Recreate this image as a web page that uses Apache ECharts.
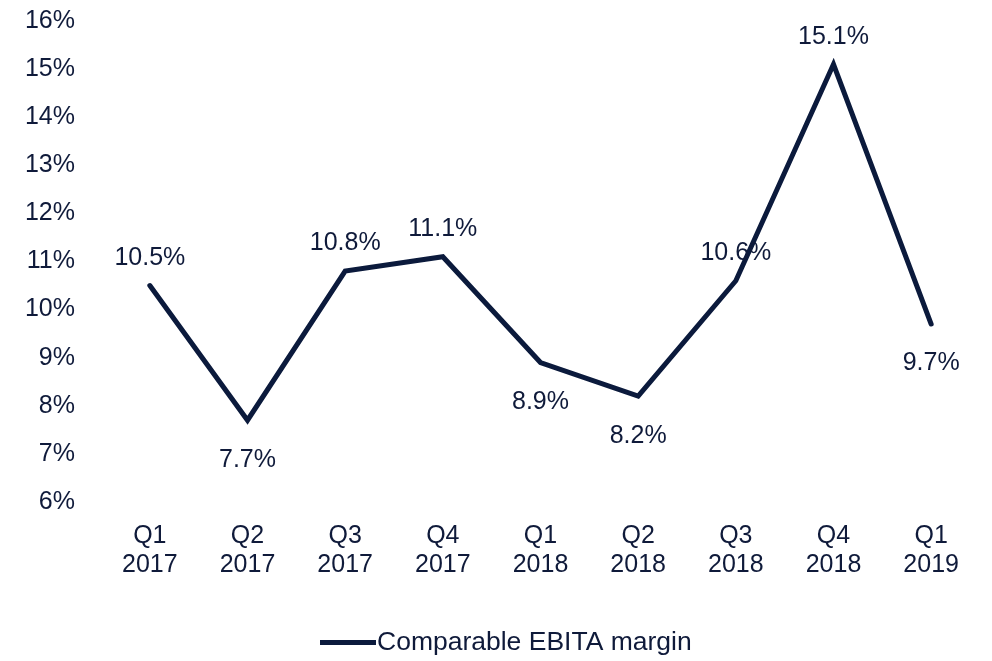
<!DOCTYPE html>
<html>
<head>
<meta charset="utf-8">
<script src="https://cdn.jsdelivr.net/npm/echarts@6/dist/echarts.min.js"></script>
<style>
  html, body { margin: 0; padding: 0; background: #fff; }
  #chart { width: 992px; height: 661px; }
</style>
</head>
<body>
<div id="chart"></div>
<script>
const categories = ['Q1\n2017', 'Q2\n2017', 'Q3\n2017', 'Q4\n2017', 'Q1\n2018', 'Q2\n2018', 'Q3\n2018', 'Q4\n2018', 'Q1\n2019']
const margin = [10.5, 7.7, 10.8, 11.1, 8.9, 8.2, 10.6, 15.1, 9.7]
// where each value label sits relative to its point
const labelPos = ['top', 'bottom', 'top', 'top', 'bottom', 'bottom', 'top', 'top', 'bottom']
const seriesName = 'Comparable EBITA margin'

const navy = '#0b1a3c'
const textColor = '#0f1a3a'
const font = 'Liberation Sans, Arial, sans-serif'
const fs = 25

const chart = echarts.init(document.getElementById('chart'))

const option = {
    backgroundColor: '#fff',
    textStyle: { fontFamily: font },
    grid: { left: 101, right: 12, top: 21, bottom: 159 },
    legend: {
        bottom: 0,
        left: 315,
        itemWidth: 56,
        itemHeight: 5,
        icon: 'rect',
        itemStyle: { color: navy, opacity: 1 },
        textStyle: { fontSize: 26.5, color: textColor, fontFamily: font, padding: [0, 0, 0, -4] },
        data: [seriesName]
    },
    xAxis: {
        type: 'category',
        data: categories,
        boundaryGap: true,
        axisLine: { show: false },
        axisTick: { show: false },
        axisLabel: { fontSize: fs, color: textColor, lineHeight: 29, margin: 20, fontFamily: font }
    },
    yAxis: {
        type: 'value',
        min: 6,
        max: 16,
        interval: 1,
        splitLine: { show: false },
        axisLine: { show: false },
        axisTick: { show: false },
        axisLabel: { fontSize: fs, color: textColor, margin: 26, fontFamily: font, formatter: v => v + '%' }
    },
    series: [{
        name: seriesName,
        type: 'line',
        data: margin.map((v, i) => ({
            value: v,
            label: {
                show: true,
                position: labelPos[i],
                distance: labelPos[i] === 'top' ? 15 : 27,
                offset: i === 6 ? [-20, 0] : [0, 0]
            }
        })),
        symbol: 'circle',
        symbolSize: 0.1,
        showSymbol: true,
        lineStyle: { color: navy, width: 5, cap: 'round', join: 'miter' },
        itemStyle: { color: navy },
        label: {
            show: true,
            fontSize: fs,
            color: textColor,
            fontFamily: font,
            formatter: p => p.value.toFixed(1) + '%'
        },
        labelLayout: { hideOverlap: false },
        animation: false
    }],
    animation: false
}

chart.setOption(option)
</script>
</body>
</html>
